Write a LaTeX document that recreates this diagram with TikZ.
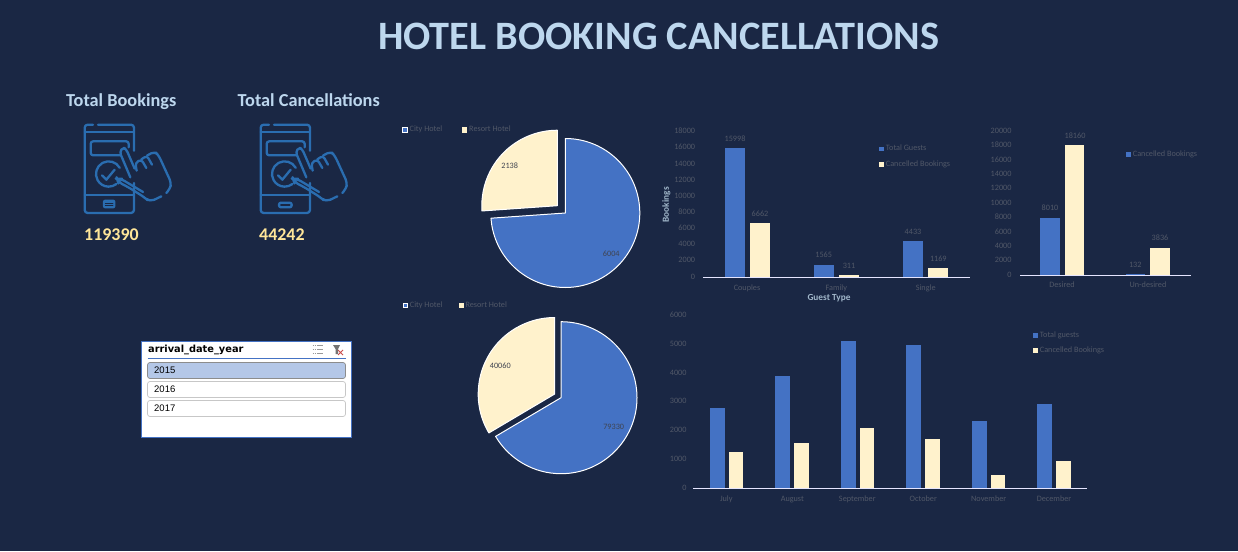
\documentclass[tikz,border=0pt]{standalone}
\usepackage{fontspec}
\setmainfont{Carlito}
\newfontfamily\slicerfont{Liberation Sans}
\newfontfamily\slicerhead{DejaVu Sans}
\definecolor{bgnavy}{HTML}{1A2744}
\definecolor{barblue}{HTML}{4472C4}
\definecolor{barcream}{HTML}{FFF2CC}
\definecolor{headblue}{HTML}{BDD7EE}
\definecolor{iconblue}{HTML}{2A6DB0}
\definecolor{numgold}{HTML}{FFE699}
\definecolor{dimtext}{HTML}{515868}
\definecolor{piedark}{HTML}{404450}
\tikzset{
  title/.style={font=\fontsize{40.3}{44}\selectfont\bfseries,text=headblue,inner sep=0pt},
  kpihead/.style={font=\fontsize{18.3}{20}\selectfont\bfseries,text=headblue,inner sep=0pt,anchor=base west},
  kpinum/.style={font=\fontsize{17.9}{20}\selectfont\bfseries,text=numgold,inner sep=0pt,anchor=base west},
  dim/.style={font=\fontsize{8.2}{10}\selectfont,text=dimtext,inner sep=0pt,text height=5pt,text depth=1.2pt},
  dimr/.style={dim,anchor=east},
  diml/.style={dim,anchor=west},
  axtitle/.style={font=\fontsize{9.3}{10}\selectfont\bfseries,text=headblue!85!black,inner sep=0pt,text height=6pt,text depth=1.6pt},
  pielabel/.style={font=\fontsize{8.2}{10}\selectfont,text=piedark,inner sep=0pt},
  axisline/.style={draw=white!90!blue,line width=0.9pt},
  slice/.style={draw=white,line width=1pt,line join=round},
  iconline/.style={draw=iconblue,line width=2.3pt,line cap=round,line join=round},
  yearbtn/.style={draw=black!22,line width=0.7pt,rounded corners=2.5pt,fill=white},
  yeartxt/.style={font=\slicerfont\fontsize{9.5}{11}\selectfont,text=black,inner sep=0pt,anchor=west},
}
% bar: x-left, x-right, top, base
\newcommand{\bluebar}[4]{\fill[barblue] (#1,#3) rectangle (#2,#4);}
\newcommand{\creambar}[4]{\fill[barcream] (#1,#3) rectangle (#2,#4);}
\newcommand{\phoneicon}[3]{%
 \begin{scope}[shift={(#1,#2)},x=0.3333pt,y=-0.3333pt,iconline]
  \draw[rounded corners=3pt] (45,20) -- (20,20) -- (20,285) -- (168,285) -- (168,195);
  \draw[rounded corners=3pt] (60,20) -- (168,20) -- (168,98);
  \draw (20,42) -- (168,42);
  \draw (20,230) -- (168,230);
  \draw[rounded corners=2.5pt] (128,112) -- (38,112) -- (38,70) -- (152,70) -- (152,88);
  \begin{scope}[shift={(92,168)},y=0.3333pt]
   \draw (29:38) arc[start angle=29,end angle=308,radius=38];
  \end{scope}
  \draw (72,172) -- (85,185) -- (110,155);
  \draw[rounded corners=3pt] (157,178) -- (125,102) -- (135,88) -- (145,94) -- (170,152);
  \draw[rounded corners=3pt] (176,158) -- (172,135) -- (190,124) -- (205,150);
  \draw[rounded corners=3pt] (190,124) -- (207,113) -- (222,140);
  \draw[rounded corners=4pt] (207,113) -- (230,100) -- (242,112) -- (280,195) -- (276,213) -- (265,225);
  \draw[rounded corners=5pt] (250,235) -- (215,252) -- (198,237) -- (150,207) -- (120,192) -- (117,182) -- (128,182) -- (195,222);
  #3
 \end{scope}}
\begin{document}
\begin{tikzpicture}[x=1pt,y=-1pt]
\fill[bgnavy] (0,0) rectangle (1238,551);
\useasboundingbox (0,0) rectangle (1238,551);

\node[title] (ttl) at (658.5,36) {HOTEL BOOKING CANCELLATIONS};

% KPI
\node[kpihead] (kb) at (66,106) {Total Bookings};
\node[kpihead] (kc) at (237.5,106) {Total Cancellations};
\phoneicon{78}{118}{\fill[iconblue,rounded corners=2pt] (75,245) rectangle (112,271);
  \draw[bgnavy,line width=0.7pt] (82,255) -- (105,255) (82,262) -- (105,262);}
\phoneicon{254}{118}{\draw[rounded corners=2pt] (75,254) rectangle (113,268);}
\node[kpinum] (nb) at (84,240.7) {119390};
\node[kpinum] (nc) at (259,240.7) {44242};

% Slicer
\draw[draw=barblue,fill=white,line width=0.9pt] (141.5,341) rectangle (351,437);
\node[anchor=west,inner sep=0pt,font=\slicerhead\fontsize{9.8}{12}\selectfont\bfseries,text=black] (slt) at (148,350) {arrival\_date\_year};
\draw[barblue,line width=0.9pt] (147.5,358.3) -- (346,358.3);
\draw[yearbtn,fill=barblue!40!white,draw=black!45] (147.5,362.5) rectangle (345.5,378.5);
\draw[yearbtn] (147.5,381.5) rectangle (345.5,397.5);
\draw[yearbtn] (147.5,400.5) rectangle (345.5,416.5);
\node[yeartxt] (y15) at (154,370.5) {2015};
\node[yeartxt] (y16) at (154,389.5) {2016};
\node[yeartxt] (y17) at (154,408.5) {2017};
% slicer buttons
\draw[black!40,line width=0.8pt] (317,345.5) -- (323,345.5) (317,349.5) -- (323,349.5) (317,353.5) -- (323,353.5);
\draw[black!40,line width=1.2pt,densely dotted] (312.5,345.5) -- (315.5,345.5) (312.5,349.5) -- (315.5,349.5) (312.5,353.5) -- (315.5,353.5);
\fill[black!55] (333,345) -- (340,345) -- (338,349) -- (338,354) -- (335.5,354) -- (335.5,349) -- cycle;
\draw[red!70!black!70,line width=0.9pt] (338,350) -- (343,355) (343,350) -- (338,355);

% Pie top
\begin{scope}[shift={(565.3,213)},y=1pt]
 \filldraw[slice,fill=barblue] (0,0) -- (90:74.5) arc[start angle=90,end angle=-176,radius=74.5] -- cycle;
\end{scope}
\begin{scope}[shift={(557.3,205.7)},y=1pt]
 \filldraw[slice,fill=barcream] (0,0) -- (184:75.5) arc[start angle=184,end angle=90,radius=75.5] -- cycle;
\end{scope}
\node[pielabel] (p1a) at (611.3,253.3) {6004};
\node[pielabel] (p1b) at (509.7,165.3) {2138};
\draw[white,fill=barblue,line width=0.9pt] (402.7,127.7) rectangle (407.5,132.5);
\node[diml] (l1a) at (409.5,129.5) {City Hotel};
\fill[barcream] (462.3,127.3) rectangle (467,132.7);
\node[diml] (l1b) at (469,129.5) {Resort Hotel};

% Pie bottom
\begin{scope}[shift={(561,397.7)},y=1pt]
 \filldraw[slice,fill=barblue] (0,0) -- (90:76) arc[start angle=90,end angle=-149.4,radius=76] -- cycle;
\end{scope}
\begin{scope}[shift={(554.7,394)},y=1pt]
 \filldraw[slice,fill=barcream] (0,0) -- (210.6:76.5) arc[start angle=210.6,end angle=90,radius=76.5] -- cycle;
\end{scope}
\node[pielabel] (p2a) at (613.7,427.3) {79330};
\node[pielabel] (p2b) at (500.3,365.3) {40060};
\draw[white,fill=barblue,line width=0.9pt] (403.5,303.2) rectangle (407.6,307.6);
\node[diml] (l2a) at (409.7,305.5) {City Hotel};
\fill[barcream] (459,303) rectangle (463.7,307.7);
\node[diml] (l2b) at (465.3,305.5) {Resort Hotel};

% Chart 1: Guest type
\foreach \v/\yy in {0/277.1,2000/261,4000/244.8,6000/228.7,8000/212.5,10000/196.4,12000/180.2,14000/164.1,16000/147.9,18000/131.5}
  \node[dimr] at (695.3,\yy) {\v};
\bluebar{725}{745}{148}{277}\creambar{750}{770}{223}{277}
\bluebar{814}{834}{265}{277}\creambar{839}{859}{275}{277}
\bluebar{903}{923}{241}{277}\creambar{928}{948}{268}{277}
\draw[axisline] (703,277.2) -- (970,277.2);
\node[dim] at (735,139.3) {15998};
\node[dim] at (760,214.7) {6662};
\node[dim] at (823.7,255.3) {1565};
\node[dim] at (849,266.3) {311};
\node[dim] at (913,232.3) {4433};
\node[dim] at (938.3,259.3) {1169};
\node[dim] at (747,288.3) {Couples};
\node[dim] at (836.3,288.3) {Family};
\node[dim] at (925.7,288.3) {Single};
\node[axtitle] (gt) at (829,298) {Guest Type};
\node[axtitle,rotate=90] (bk) at (666.7,204.7) {Bookings};
\fill[barblue] (879,146.7) rectangle (884,151);
\node[diml] at (885.7,148.5) {Total Guests};
\fill[barcream] (879,162.3) rectangle (884,166.7);
\node[diml] at (885.7,164.5) {Cancelled Bookings};

% Chart 2: Desired
\foreach \v/\yy in {0/275.3,2000/260.9,4000/246.5,6000/232.1,8000/217.7,10000/203.3,12000/188.9,14000/174.5,16000/160.1,18000/145.7,20000/131.3}
  \node[dimr] at (1011.7,\yy) {\v};
\bluebar{1040}{1060}{218}{275}\creambar{1065}{1084}{145}{275}
\bluebar{1126}{1145}{274}{275}\creambar{1150}{1170}{248}{275}
\draw[axisline] (1020,275.2) -- (1190.7,275.2);
\node[dim] at (1050,208.7) {8010};
\node[dim] at (1075,136.3) {18160};
\node[dim] at (1135.3,265.7) {132};
\node[dim] at (1160,238.7) {3836};
\node[dim] at (1062,285.5) {Desired};
\node[dim] at (1148,285.5) {Un-desired};
\fill[barblue] (1126,152) rectangle (1130.7,156.7);
\node[diml] at (1132.7,154.5) {Cancelled Bookings};

% Chart 3: Months
\foreach \v/\yy in {0/488.3,1000/459.5,2000/430.7,3000/401.9,4000/373.1,5000/344.3,6000/315.5}
  \node[dimr] at (686.7,\yy) {\v};
\bluebar{710}{725}{408}{488}\creambar{729}{743}{452}{488}
\bluebar{775}{790}{376}{488}\creambar{794}{809}{443}{488}
\bluebar{841}{856}{341}{488}\creambar{860}{874}{428}{488}
\bluebar{906}{921}{345}{488}\creambar{925}{940}{439}{488}
\bluebar{972}{987}{421}{488}\creambar{991}{1005}{475}{488}
\bluebar{1037}{1052}{404}{488}\creambar{1056}{1071}{461}{488}
\draw[axisline] (693.3,488.3) -- (1086.7,488.3);
\node[dim] at (726.3,499.5) {July};
\node[dim] at (792.3,499.5) {August};
\node[dim] at (857.3,499.5) {September};
\node[dim] at (923.3,499.5) {October};
\node[dim] at (988.7,499.5) {November};
\node[dim] at (1054,499.5) {December};
\fill[barblue] (1033,333.3) rectangle (1038,337.7);
\node[diml] at (1039.7,335.5) {Total guests};
\fill[barcream] (1033,348.3) rectangle (1038,352.7);
\node[diml] at (1039.7,350.5) {Cancelled Bookings};
\end{tikzpicture}
\end{document}
